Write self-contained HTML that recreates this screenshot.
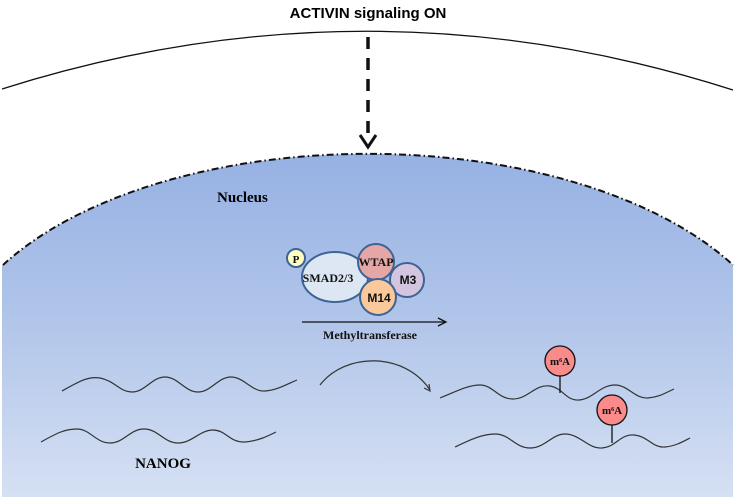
<!DOCTYPE html>
<html><head><meta charset="utf-8"><style>
html,body{margin:0;padding:0;background:#fff;}
svg{display:block;}
</style></head><body>
<svg width="735" height="501" viewBox="0 0 735 501" xmlns="http://www.w3.org/2000/svg">
<defs>
<linearGradient id="g" x1="0" y1="0" x2="0" y2="1">
<stop offset="0" stop-color="#96b1e3"/>
<stop offset="0.5" stop-color="#b2c6ea"/>
<stop offset="1" stop-color="#d5e0f3"/>
</linearGradient>
</defs>
<text x="368" y="18" text-anchor="middle" font-family="Liberation Sans, sans-serif" font-weight="bold" font-size="15">ACTIVIN signaling ON</text>
<path d="M2,89 Q368,-27 733,90" fill="none" stroke="#111" stroke-width="1.3"/>
<path d="M2,265 L3,265 A420,220 0 0 1 733,265 L733,497 L2,497 Z" fill="url(#g)"/>
<path d="M3,265 A420,220 0 0 1 733,265" fill="none" stroke="#111" stroke-width="2" stroke-dasharray="7,3,1.5,3"/>
<line x1="368" y1="37" x2="368" y2="140" stroke="#111" stroke-width="3.5" stroke-dasharray="12,9"/>
<path d="M360,135 L368,147 L376,135" fill="none" stroke="#111" stroke-width="3"/>
<text x="217" y="202" font-family="Liberation Serif, serif" font-weight="bold" font-size="15">Nucleus</text>
<g stroke="#3d6494" stroke-width="2">
<ellipse cx="335" cy="277" rx="33" ry="25" fill="#dde6f3"/>
<circle cx="296" cy="258" r="9" fill="#ffffc2"/>
<circle cx="407" cy="280" r="17" fill="#d3c5df"/>
<circle cx="376" cy="262" r="18" fill="#e5a7a6"/>
<circle cx="378" cy="297" r="18" fill="#f9c89b"/>
</g>
<g font-family="Liberation Serif, serif" font-weight="bold" fill="#111" text-anchor="middle">
<text x="296" y="263" font-size="11">P</text>
<text x="328" y="282" font-size="12">SMAD2/3</text>
<text x="376" y="266" font-size="12">WTAP</text>
<text x="408" y="284" font-size="12" font-family="Liberation Sans, sans-serif">M3</text>
<text x="379" y="302" font-size="12" font-family="Liberation Sans, sans-serif">M14</text>
<text x="370" y="339" font-size="12">Methyltransferase</text>
</g>
<line x1="302" y1="322" x2="445" y2="322" stroke="#111" stroke-width="1.3"/>
<path d="M438,318 L446,322 L438,326" fill="none" stroke="#111" stroke-width="1.3"/>
<g fill="none" stroke="#333" stroke-width="1.2">
<path d="M62,391 C78,382 88,376 100,378 C115,381 120,392 132,392 C145,392 152,377 165,377 C178,377 185,392 198,392 C211,392 218,377 231,377 C244,377 252,392 265,391 C278,390 287,384 297,380"/>
<path d="M41,442 C57,433 65,429 77,429 C90,429 96,443 110,443 C124,443 130,429 144,429 C158,429 164,443 178,443 C192,443 200,430 213,430 C226,430 230,443 245,442 C258,441 268,436 276,432"/>
<path d="M320,385 C345,352 405,352 430,390"/>
<path d="M424,388 L430,391 L429,384"/>
<path d="M440,398 C455,392 468,385 480,385 C493,385 498,399 513,399 C528,399 535,384 550,386 C563,388 566,401 579,400 C593,399 600,385 615,385 C628,385 635,399 648,398 C660,397 667,392 674,389"/>
<path d="M455,447 C470,440 482,434 495,434 C510,434 515,448 530,448 C545,448 552,434 565,434 C580,434 588,449 602,448 C616,447 620,434 634,435 C648,436 652,448 665,447 C676,446 684,441 690,438"/>
</g>
<g stroke="#111" stroke-width="1.3">
<line x1="560" y1="376" x2="560" y2="393"/>
<line x1="612" y1="425" x2="612" y2="443"/>
<circle cx="560" cy="361" r="15" fill="#fb8a8a"/>
<circle cx="612" cy="410" r="15" fill="#fb8a8a"/>
</g>
<g font-family="Liberation Serif, serif" font-weight="bold" font-size="11" text-anchor="middle" fill="#111">
<text x="560" y="365">m<tspan font-size="6" dy="-3">6</tspan><tspan dy="3">A</tspan></text>
<text x="612" y="414">m<tspan font-size="6" dy="-3">6</tspan><tspan dy="3">A</tspan></text>
</g>
<text x="163" y="468" text-anchor="middle" font-family="Liberation Serif, serif" font-weight="bold" font-size="15">NANOG</text>
</svg>
</body></html>
